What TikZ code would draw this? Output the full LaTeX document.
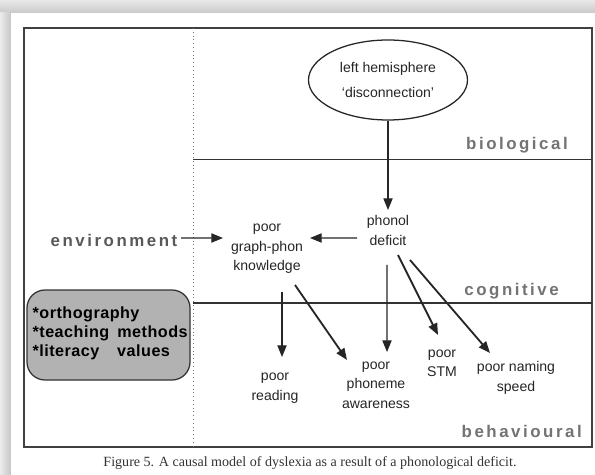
\documentclass[tikz,border=0pt]{standalone}
\usepackage{fontspec}
\setmainfont{Liberation Sans}
\newfontfamily\levelfont{Liberation Sans}[LetterSpace=15]
\newfontfamily\boxfont{Liberation Sans}[LetterSpace=3]
\newfontfamily\captionfont{Liberation Serif}
\usetikzlibrary{
        arrows.meta,
        calc,
        positioning,
        shapes.geometric
    }
\tikzset{>={Triangle[length=2.9mm,width=2.3mm]},auto}
\tikzset{
    term/.style={align=center,inner sep=1pt,text=black!85,
        font=\fontsize{10}{13.8}\selectfont},
    levelname/.style={anchor=east,inner sep=0pt,text=black!55,
        font=\levelfont\bfseries\fontsize{12}{14}\selectfont},
    cause/.style={->,line width=0.8pt,black!85},
    strongcause/.style={->,line width=1.3pt,black!85}
}

\begin{document}
\begin{tikzpicture}
\useasboundingbox (0,0) rectangle (14.875,-11.875);
    % page and frame
    \fill[gray!30] (0,0) rectangle (14.875,-11.875);
    \shade[top color=gray!18,bottom color=gray!42] (0,0) rectangle (14.875,-0.325);
    \shade[left color=gray!15,right color=gray!45] (0,-0.325) rectangle (0.275,-11.875);
    \fill[white] (0.275,-0.325) rectangle (14.875,-11.875);
    \draw[black!75,line width=1pt] (0.6,-0.7) rectangle (14.8,-11.175);
    \draw[black!55,dotted,line width=0.7pt] (4.825,-0.7) -- (4.825,-11.175);
    \draw[black!80,line width=0.8pt] (4.825,-3.99) -- (14.8,-3.99);
    \draw[black!80,line width=0.8pt] (4.825,-7.575) -- (14.8,-7.575);

    % levels
    \node[levelname] (biological) at (14.2,-3.625) {biological};
    \node[levelname] (cognitive) at (13.975,-7.275) {cognitive};
    \node[levelname] (behavioural) at (14.55,-10.775) {behavioural};

    % nodes
    \node[ellipse,draw,black!85,line width=0.9pt,minimum width=3.975cm,minimum height=2cm,
        inner sep=0pt,align=center,font=\fontsize{10}{18}\selectfont] (hemi) at (9.7,-2.0)
        {left hemisphere\\`disconnection'};
    \node[term,font=\fontsize{10}{14.2}\selectfont] (phonol) at (9.7,-5.75) {phonol\\deficit};
    \node[term] (graph) at (6.675,-6.225) {poor\\graph-phon\\knowledge};
    \node[inner sep=0pt,text=black!65,font=\levelfont\bfseries\fontsize{12}{14}\selectfont]
        (env) at (2.85,-6.0) {environment};
    \node[term] (reading) at (6.875,-9.7) {poor\\reading};
    \node[term] (phoneme) at (9.4,-9.625) {poor\\phoneme\\awareness};
    \node[term] (stm) at (11.05,-9.075) {poor\\STM};
    \node[term] (naming) at (12.9,-9.45) {poor naming\\speed};

    \node[draw=black!80,line width=0.9pt,fill=black!30,rounded corners=0.45cm,
        minimum width=4.075cm,minimum height=2.25cm] (factors) at (2.7125,-8.375) {};
    \node[anchor=west,align=left,inner sep=0pt,
        font=\boxfont\bfseries\fontsize{11.5}{13.5}\selectfont]
        (factorlist) at ($(factors.west)+(0.15,0.05)$)
        {*orthography\\*teaching\hspace{0.5em}methods\\*literacy\hspace{1.1em}values};

    % causes
    \draw[cause] (hemi.south) -- ($(phonol)+(0,0.5)$);
    \draw[cause] ($(env)+(1.675,0.05)$) -- ($(graph)+(-1.1,0.275)$);
    \draw[cause] ($(phonol)+(-0.775,-0.2)$) -- ($(graph)+(1.075,0.275)$);
    \draw[cause] ($(graph)+(0.375,-1.075)$) -- ($(reading)+(0.175,0.775)$);
    \draw[strongcause] ($(graph)+(0.7,-0.9)$) -- ($(phoneme)+(-0.725,0.625)$);
    \draw[cause] ($(phonol)+(-0.025,-0.875)$) -- ($(phoneme)+(0.275,0.825)$);
    \draw[strongcause] ($(phonol)+(0.25,-0.625)$) -- ($(stm)+(-0.1,0.7)$);
    \draw[strongcause] ($(phonol)+(0.55,-0.75)$) -- ($(naming)+(-0.65,0.625)$);

    % caption
    \node[text=black!80,font=\captionfont\fontsize{10}{12}\selectfont] (caption) at (7.75,-11.575)
        {Figure 5. A causal model of dyslexia as a result of a phonological deficit.};
\end{tikzpicture}
\end{document}
